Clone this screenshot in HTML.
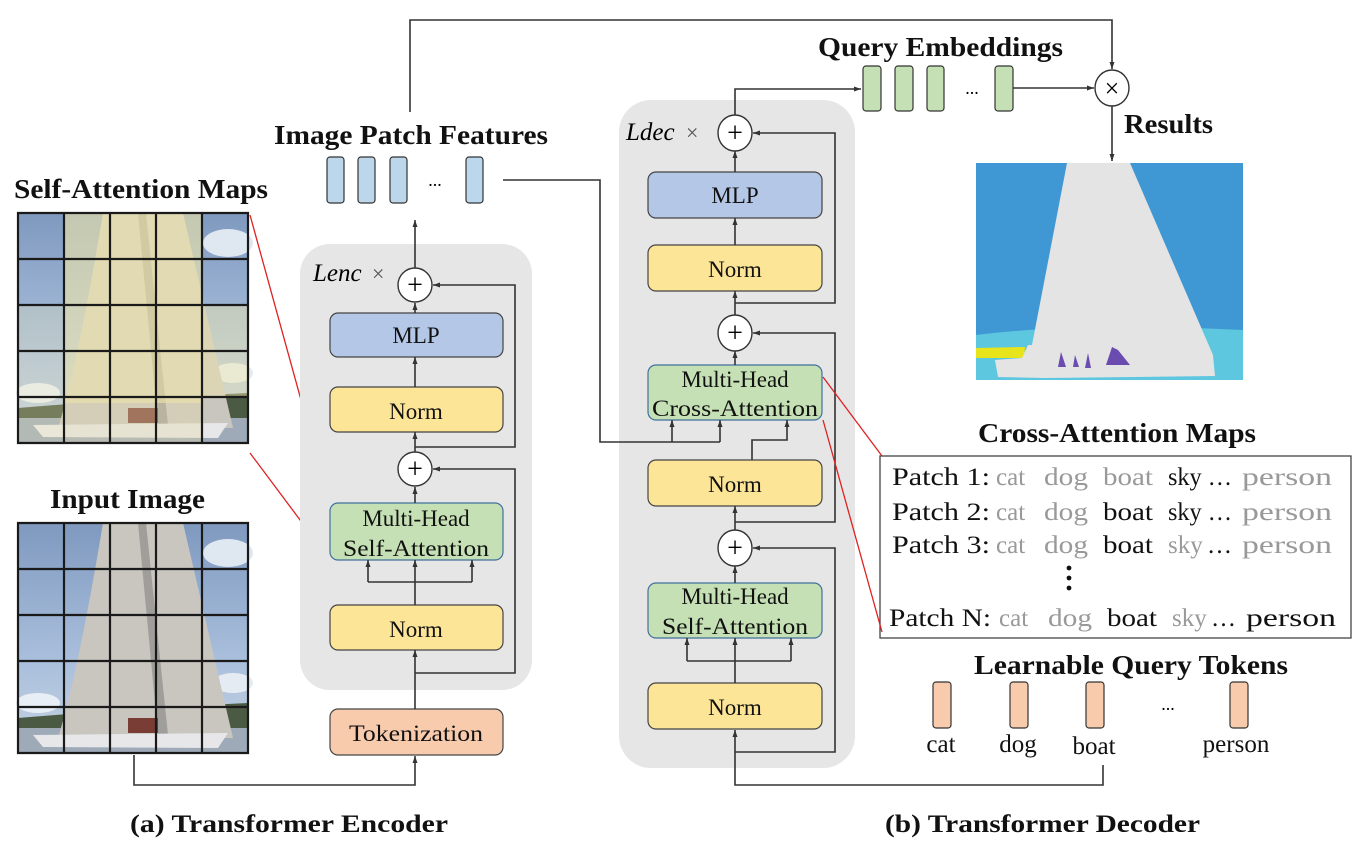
<!DOCTYPE html>
<html><head><meta charset="utf-8"><style>
html,body{margin:0;padding:0;background:#fff}
svg{display:block}
text{font-family:"Liberation Serif",serif}
.t{font-weight:bold;font-size:27px;fill:#111}
.b{font-size:23px;fill:#111;text-anchor:middle}
.ln{stroke:#333;stroke-width:1.6;fill:none}
.g{fill:#999}
.p{font-size:25px;fill:#111}
</style></head><body>
<svg width="1363" height="853" viewBox="0 0 1363 853" xmlns="http://www.w3.org/2000/svg">
<defs>
<marker id="a" markerWidth="8" markerHeight="8" refX="7" refY="4" orient="auto" markerUnits="userSpaceOnUse"><path d="M0,1.5 L7,4 L0,6.5z" fill="#333"/></marker>
<linearGradient id="sky" x1="0" y1="0" x2="0" y2="1"><stop offset="0" stop-color="#7f99bf"/><stop offset="0.6" stop-color="#a9bfdc"/><stop offset="1" stop-color="#c6d3e2"/></linearGradient>
<g id="photo">
<rect x="0" y="0" width="230" height="230" fill="url(#sky)"/>
<ellipse cx="20" cy="180" rx="22" ry="10" fill="#e8eef5"/>
<ellipse cx="210" cy="30" rx="25" ry="14" fill="#dfe7f1"/>
<ellipse cx="215" cy="160" rx="20" ry="10" fill="#e4ebf3"/>
<path d="M0,195 Q120,185 230,180 L230,215 L0,215z" fill="#4b5a43"/>
<path d="M0,205 L230,205 L230,230 L0,230z" fill="#9eaab8"/>
<path d="M85,0 L165,0 L215,215 L40,215 Q60,150 85,0z" fill="#c9c6c0"/>
<path d="M120,0 L128,0 L150,212 L140,212z" fill="#a09e9a"/>
<path d="M15,212 L210,210 L200,225 L25,224z" fill="#e7e7ea"/>
<rect x="110" y="195" width="30" height="15" fill="#7a3d35"/>
</g>
</defs>

<path class="ln" d="M410,112 L410,20 L1112,20 L1112,69" marker-end="url(#a)"/>

<text class="t" x="14" y="198" textLength="254" lengthAdjust="spacingAndGlyphs">Self-Attention Maps</text>
<text class="t" x="50" y="508" textLength="155" lengthAdjust="spacingAndGlyphs">Input Image</text>

<g transform="translate(18,213)">
<use href="#photo"/>
<rect x="46" y="0" width="138" height="190" fill="#f2e7a8" opacity="0.6"/>
<rect x="0" y="92" width="46" height="138" fill="#f2e7a8" opacity="0.25"/>
<rect x="184" y="92" width="46" height="92" fill="#f2e7a8" opacity="0.45"/>
<rect x="46" y="184" width="138" height="46" fill="#e8dca8" opacity="0.35"/>
<path d="M0,0H230V230H0z M46,0V230 M92,0V230 M138,0V230 M184,0V230 M0,46H230 M0,92H230 M0,138H230 M0,184H230" stroke="#1a1a1a" stroke-width="2.2" fill="none"/>
</g>
<g transform="translate(18,523)">
<use href="#photo"/>
<path d="M0,0H230V230H0z M46,0V230 M92,0V230 M138,0V230 M184,0V230 M0,46H230 M0,92H230 M0,138H230 M0,184H230" stroke="#1a1a1a" stroke-width="2.2" fill="none"/>
</g>
<line x1="250" y1="215" x2="330" y2="505" stroke="#d22" stroke-width="1.3"/>
<line x1="250" y1="453" x2="330" y2="560" stroke="#d22" stroke-width="1.3"/>

<text class="t" x="274" y="144" textLength="274" lengthAdjust="spacingAndGlyphs">Image Patch Features</text>
<g fill="#bcd6ec" stroke="#333" stroke-width="1.2">
<rect x="327" y="157" width="17" height="46" rx="3"/>
<rect x="358" y="157" width="17" height="46" rx="3"/>
<rect x="390" y="157" width="17" height="46" rx="3"/>
<rect x="466" y="157" width="17" height="46" rx="3"/>
</g>
<text x="435" y="186" font-size="18" text-anchor="middle">...</text>

<rect x="300" y="244" width="232" height="446" rx="30" fill="#e6e6e6"/>
<text x="313" y="281" font-size="25" font-style="italic">Lenc</text>
<text x="372" y="281" font-size="22" fill="#555">×</text>
<rect x="330" y="313" width="173" height="44" rx="8" fill="#b4c7e7" stroke="#444" stroke-width="1.2"/>
<g fill="#fde597" stroke="#444" stroke-width="1.2">
<rect x="330" y="387" width="173" height="45" rx="8"/>
<rect x="330" y="605" width="173" height="45" rx="8"/>
</g>
<rect x="330" y="503" width="173" height="57" rx="8" fill="#c5e0b4" stroke="#41719c" stroke-width="1.2"/>
<rect x="330" y="709" width="173" height="46" rx="8" fill="#f8cbad" stroke="#444" stroke-width="1.2"/>
<text class="b" x="416" y="343">MLP</text>
<text class="b" x="416" y="419">Norm</text>
<text class="b" x="416" y="526">Multi-Head</text>
<text class="b" x="416" y="556" textLength="146" lengthAdjust="spacingAndGlyphs">Self-Attention</text>
<text class="b" x="416" y="637">Norm</text>
<text class="b" x="416" y="741" textLength="134" lengthAdjust="spacingAndGlyphs">Tokenization</text>
<g class="ln">
<path d="M415,268 L415,220" marker-end="url(#a)"/>
<path d="M415,313 L415,303" marker-end="url(#a)"/>
<path d="M415,387 L415,357" marker-end="url(#a)"/>
<path d="M415,452 L415,432" marker-end="url(#a)"/>
<path d="M415,447 L515,447 L515,285 L433,285" marker-end="url(#a)"/>
<path d="M415,503 L415,487" marker-end="url(#a)"/>
<path d="M415,605 L415,560" marker-end="url(#a)"/>
<path d="M368,582 L472,582"/>
<path d="M368,582 L368,560" marker-end="url(#a)"/>
<path d="M472,582 L472,560" marker-end="url(#a)"/>
<path d="M415,709 L415,650" marker-end="url(#a)"/>
<path d="M415,673 L515,673 L515,469 L433,469" marker-end="url(#a)"/>
<path d="M134,755 L134,785 L415,785 L415,756" marker-end="url(#a)"/>
</g>
<g fill="#fff" stroke="#333" stroke-width="1.4">
<ellipse cx="415" cy="285" rx="17" ry="17"/>
<ellipse cx="415" cy="469" rx="17" ry="17"/>
</g>
<text x="415" y="294" font-size="28" text-anchor="middle">+</text>
<text x="415" y="478" font-size="28" text-anchor="middle">+</text>

<rect x="619" y="100" width="236" height="668" rx="32" fill="#e6e6e6"/>
<path class="ln" d="M503,180 L600,180 L600,442 L720,442"/>
<text x="626" y="140" font-size="25" font-style="italic">Ldec</text>
<text x="686" y="140" font-size="22" fill="#555">×</text>
<rect x="648" y="172" width="174" height="46" rx="8" fill="#b4c7e7" stroke="#444" stroke-width="1.2"/>
<g fill="#fde597" stroke="#444" stroke-width="1.2">
<rect x="648" y="245" width="174" height="46" rx="8"/>
<rect x="648" y="460" width="174" height="46" rx="8"/>
<rect x="648" y="683" width="174" height="46" rx="8"/>
</g>
<g fill="#c5e0b4" stroke="#41719c" stroke-width="1.2">
<rect x="648" y="365" width="174" height="55" rx="8"/>
<rect x="648" y="583" width="174" height="55" rx="8"/>
</g>
<text class="b" x="735" y="203">MLP</text>
<text class="b" x="735" y="277">Norm</text>
<text class="b" x="735" y="387">Multi-Head</text>
<text class="b" x="735" y="416" textLength="166" lengthAdjust="spacingAndGlyphs">Cross-Attention</text>
<text class="b" x="735" y="492">Norm</text>
<text class="b" x="735" y="604">Multi-Head</text>
<text class="b" x="735" y="634" textLength="146" lengthAdjust="spacingAndGlyphs">Self-Attention</text>
<text class="b" x="735" y="715">Norm</text>
<g class="ln">
<path d="M735,116 L735,89 L861,89" marker-end="url(#a)"/>
<path d="M735,172 L735,151" marker-end="url(#a)"/>
<path d="M735,245 L735,218" marker-end="url(#a)"/>
<path d="M735,316 L735,291" marker-end="url(#a)"/>
<path d="M735,303 L835,303 L835,133 L753,133" marker-end="url(#a)"/>
<path d="M735,365 L735,351" marker-end="url(#a)"/>
<path d="M672,442 L672,420" marker-end="url(#a)"/>
<path d="M720,442 L720,420" marker-end="url(#a)"/>
<path d="M752,460 L752,440 L787,440 L787,420" marker-end="url(#a)"/>
<path d="M735,531 L735,506" marker-end="url(#a)"/>
<path d="M735,522 L835,522 L835,333 L753,333" marker-end="url(#a)"/>
<path d="M735,583 L735,566" marker-end="url(#a)"/>
<path d="M735,683 L735,638" marker-end="url(#a)"/>
<path d="M687,661 L791,661"/>
<path d="M687,661 L687,638" marker-end="url(#a)"/>
<path d="M791,661 L791,638" marker-end="url(#a)"/>
<path d="M735,752 L835,752 L835,548 L753,548" marker-end="url(#a)"/>
<path d="M1103,765 L1103,785 L735,785 L735,730" marker-end="url(#a)"/>
<path d="M1013,88 L1094,88" marker-end="url(#a)"/>
<path d="M1112,106 L1112,161" marker-end="url(#a)"/>
</g>
<g fill="#fff" stroke="#333" stroke-width="1.4">
<ellipse cx="735" cy="133" rx="17" ry="18"/>
<ellipse cx="735" cy="333" rx="17" ry="18"/>
<ellipse cx="735" cy="548" rx="17" ry="18"/>
<ellipse cx="1112" cy="88" rx="17" ry="18"/>
</g>
<text x="735" y="142" font-size="28" text-anchor="middle">+</text>
<text x="735" y="342" font-size="28" text-anchor="middle">+</text>
<text x="735" y="557" font-size="28" text-anchor="middle">+</text>
<text x="1112" y="97" font-size="26" text-anchor="middle">×</text>

<text class="t" x="818" y="56" textLength="245" lengthAdjust="spacingAndGlyphs">Query Embeddings</text>
<g fill="#c5e0b4" stroke="#333" stroke-width="1.2">
<rect x="863" y="66" width="18" height="45" rx="3"/>
<rect x="895" y="66" width="18" height="45" rx="3"/>
<rect x="927" y="66" width="17" height="45" rx="3"/>
<rect x="995" y="66" width="18" height="45" rx="3"/>
</g>
<text x="972" y="94" font-size="18" text-anchor="middle">...</text>
<text class="t" x="1124" y="133" textLength="89" lengthAdjust="spacingAndGlyphs">Results</text>

<rect x="976" y="163" width="267" height="217" fill="#3f98d4"/>
<path d="M976,335 Q1080,322 1243,330 L1243,380 L976,380z" fill="#5dc7df"/>
<path d="M976,348 L1025,347 L1024,358 L976,358z" fill="#e8e41c"/>
<path d="M1067,163 L1130,163 L1213,355 L1215,376 L1045,378 L998,377 L995,360 L1022,358 L1028,345 L1032,345z" fill="#e4e4e4"/>
<g fill="#6a4cb0">
<path d="M1058,367 L1061,352 L1066,367z"/>
<path d="M1073,367 L1075,355 L1079,367z"/>
<path d="M1085,368 L1088,353 L1091,368z"/>
<path d="M1106,365 L1112,347 L1118,350 L1130,365z"/>
</g>

<text class="t" x="978" y="442" textLength="278" lengthAdjust="spacingAndGlyphs">Cross-Attention Maps</text>
<rect x="880" y="456" width="471" height="182" fill="#fff" stroke="#444" stroke-width="1.3"/>
<line x1="823" y1="377" x2="882" y2="456" stroke="#d22" stroke-width="1.3"/>
<line x1="823" y1="420" x2="882" y2="632" stroke="#d22" stroke-width="1.3"/>
<g class="p">
<text x="892" y="485" textLength="98" lengthAdjust="spacingAndGlyphs">Patch 1:</text><text x="996" y="485" class="g">cat</text><text x="1044" y="485" class="g" textLength="44" lengthAdjust="spacingAndGlyphs">dog</text><text x="1103" y="485" class="g" textLength="50" lengthAdjust="spacingAndGlyphs">boat</text><text x="1168" y="485" textLength="64" lengthAdjust="spacingAndGlyphs">sky …</text><text x="1242" y="485" class="g" textLength="90" lengthAdjust="spacingAndGlyphs">person</text>
<text x="892" y="520" textLength="98" lengthAdjust="spacingAndGlyphs">Patch 2:</text><text x="996" y="520" class="g">cat</text><text x="1044" y="520" class="g" textLength="44" lengthAdjust="spacingAndGlyphs">dog</text><text x="1103" y="520" textLength="50" lengthAdjust="spacingAndGlyphs">boat</text><text x="1168" y="520" textLength="64" lengthAdjust="spacingAndGlyphs">sky …</text><text x="1242" y="520" class="g" textLength="90" lengthAdjust="spacingAndGlyphs">person</text>
<text x="892" y="553" textLength="98" lengthAdjust="spacingAndGlyphs">Patch 3:</text><text x="996" y="553" class="g">cat</text><text x="1044" y="553" class="g" textLength="44" lengthAdjust="spacingAndGlyphs">dog</text><text x="1103" y="553" textLength="50" lengthAdjust="spacingAndGlyphs">boat</text><text x="1168" y="553" class="g">sky</text><text x="1207" y="553">…</text><text x="1242" y="553" class="g" textLength="90" lengthAdjust="spacingAndGlyphs">person</text>
<text x="889" y="626" textLength="102" lengthAdjust="spacingAndGlyphs">Patch N:</text><text x="999" y="626" class="g">cat</text><text x="1048" y="626" class="g" textLength="44" lengthAdjust="spacingAndGlyphs">dog</text><text x="1107" y="626" textLength="50" lengthAdjust="spacingAndGlyphs">boat</text><text x="1172" y="626" class="g">sky</text><text x="1211" y="626">…</text><text x="1246" y="626" textLength="90" lengthAdjust="spacingAndGlyphs">person</text>
</g>
<g fill="#111"><circle cx="1069" cy="568" r="2.4"/><circle cx="1069" cy="578" r="2.4"/><circle cx="1069" cy="588" r="2.4"/></g>

<text class="t" x="974" y="674" textLength="314" lengthAdjust="spacingAndGlyphs">Learnable Query Tokens</text>
<g fill="#f8cbad" stroke="#333" stroke-width="1.2">
<rect x="933" y="682" width="18" height="46" rx="3"/>
<rect x="1010" y="682" width="18" height="46" rx="3"/>
<rect x="1086" y="682" width="18" height="46" rx="3"/>
<rect x="1230" y="682" width="18" height="46" rx="3"/>
</g>
<text x="1168" y="710" font-size="18" text-anchor="middle">...</text>
<g font-size="25" text-anchor="middle" fill="#111">
<text x="941" y="752">cat</text>
<text x="1018" y="752">dog</text>
<text x="1094" y="754">boat</text>
<text x="1236" y="752">person</text>
</g>

<text class="t" x="130" y="832" textLength="318" lengthAdjust="spacingAndGlyphs" style="font-size:25px">(a) Transformer Encoder</text>
<text class="t" x="885" y="832" textLength="315" lengthAdjust="spacingAndGlyphs" style="font-size:25px">(b) Transformer Decoder</text>
</svg>
</body></html>
